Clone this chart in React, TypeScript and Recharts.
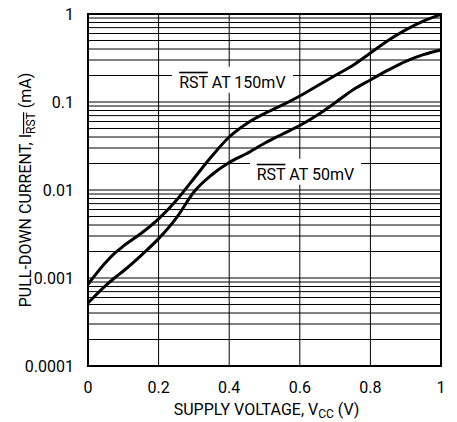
import React from 'react';
import {
  LineChart,
  Line,
  XAxis,
  YAxis,
  CartesianGrid,
  ReferenceArea,
  ReferenceDot,
  Label,
} from 'recharts';

const FONT = 'Roboto, "Liberation Sans", Arial, sans-serif';

// supply voltage (V)
const supplyVoltage = [0, 0.05, 0.075, 0.1, 0.15, 0.2, 0.25, 0.3, 0.35, 0.4, 0.45, 0.5, 0.55, 0.6, 0.65, 0.7, 0.75, 0.8, 0.85, 0.9, 0.95, 1];
// pull-down current (mA), RST held at 150mV
const rstAt150mV = [0.00085, 0.0015, 0.0019, 0.0023, 0.0032, 0.0047, 0.0076, 0.0135, 0.024, 0.04, 0.057, 0.074, 0.092, 0.117, 0.153, 0.2, 0.26, 0.36, 0.5, 0.66, 0.83, 0.99];
// pull-down current (mA), RST held at 50mV
const rstAt50mV = [0.00052, 0.00082, 0.001, 0.0012, 0.0018, 0.0028, 0.0048, 0.0095, 0.0148, 0.0205, 0.026, 0.034, 0.043, 0.054, 0.071, 0.098, 0.137, 0.178, 0.23, 0.29, 0.345, 0.39];

const xTicks = [0, 0.2, 0.4, 0.6, 0.8, 1];
const yDecades = [0.0001, 0.001, 0.01, 0.1, 1];
const minorSteps = [1, 2, 3, 4, 5, 6, 7, 8, 9];

// every log gridline, labels only on decades
const yGridTicks = yDecades.flatMap((d, i) =>
  i === yDecades.length - 1 ? [d] : minorSteps.map(m => m * d)
);

const data = supplyVoltage.map((v, i) => ({
  v,
  high: rstAt150mV[i],
  low: rstAt50mV[i],
}));

const formatY = (val: number) => {
  const hit = yDecades.find(d => Math.abs(val - d) / d < 1e-6);
  return hit !== undefined ? String(hit) : '';
};

const YTitle = ({ viewBox }: any) => {
  const bx = 31;
  const cy = viewBox.y + viewBox.height / 2;
  return (
    <text
      x={bx}
      y={cy}
      transform={`rotate(-90 ${bx} ${cy})`}
      textAnchor="middle"
      fontFamily={FONT}
      fontSize={16}
      fill="#000"
    >
      PULL-DOWN CURRENT, I
      <tspan fontSize={12} dy={4} style={{ textDecoration: 'overline' }}>RST</tspan>
      <tspan dy={-4}>{' (mA)'}</tspan>
    </text>
  );
};

const XTitle = ({ viewBox }: any) => {
  const cx = viewBox.x + viewBox.width / 2 + 2;
  const y = viewBox.y + 49;
  return (
    <text x={cx} y={y} textAnchor="middle" fontFamily={FONT} fontSize={16} fill="#000">
      SUPPLY VOLTAGE, V
      <tspan fontSize={12} dy={3}>CC</tspan>
      <tspan dy={-3}>{' (V)'}</tspan>
    </text>
  );
};

const curveTag = (rest: string, width: number) => (props: any) => {
  const { cx, cy } = props;
  return (
    <g>
      <rect x={cx - width / 2} y={cy - 15} width={width} height={26} fill="#fff" />
      <text x={cx} y={cy + 6} textAnchor="middle" fontFamily={FONT} fontSize={16} fill="#000">
        <tspan style={{ textDecoration: 'overline' }}>RST</tspan>
        {rest}
      </text>
    </g>
  );
};

const App: React.FC = () => {
  return (
    <div style={{ position: 'absolute', left: 0, top: 0, background: '#fff' }}>
      <LineChart width={457} height={422} data={data} margin={{ top: 14, right: 16, bottom: 0, left: 0 }}>
        <CartesianGrid stroke="#000" strokeWidth={1} />
        <XAxis
          dataKey="v"
          type="number"
          domain={[0, 1]}
          ticks={xTicks}
          interval={0}
          height={56}
          axisLine={false}
          tickLine={false}
          tickSize={0}
          tickMargin={16}
          tick={{ fontFamily: FONT, fontSize: 16, fill: '#000' }}
        >
          <Label content={XTitle} />
        </XAxis>
        <YAxis
          scale="log"
          domain={[0.0001, 1]}
          ticks={yGridTicks}
          interval={0}
          allowDataOverflow
          width={88}
          axisLine={false}
          tickLine={false}
          tickSize={0}
          tickMargin={14}
          tickFormatter={formatY}
          tick={{ fontFamily: FONT, fontSize: 16, fill: '#000' }}
        >
          <Label content={YTitle} />
        </YAxis>
        <ReferenceArea x1={0} x2={1} y1={0.0001} y2={1} fill="none" stroke="#000" strokeWidth={2} />
        <ReferenceDot x={0.409} y={0.17} r={0} shape={curveTag(' AT 150mV', 121)} />
        <ReferenceDot x={0.616} y={0.0153} r={0} shape={curveTag(' AT 50mV', 111)} />
        <Line type="monotone" dataKey="high" stroke="#000" strokeWidth={3} dot={false} isAnimationActive={false} />
        <Line type="monotone" dataKey="low" stroke="#000" strokeWidth={3} dot={false} isAnimationActive={false} />
      </LineChart>
    </div>
  );
};

export default App;
